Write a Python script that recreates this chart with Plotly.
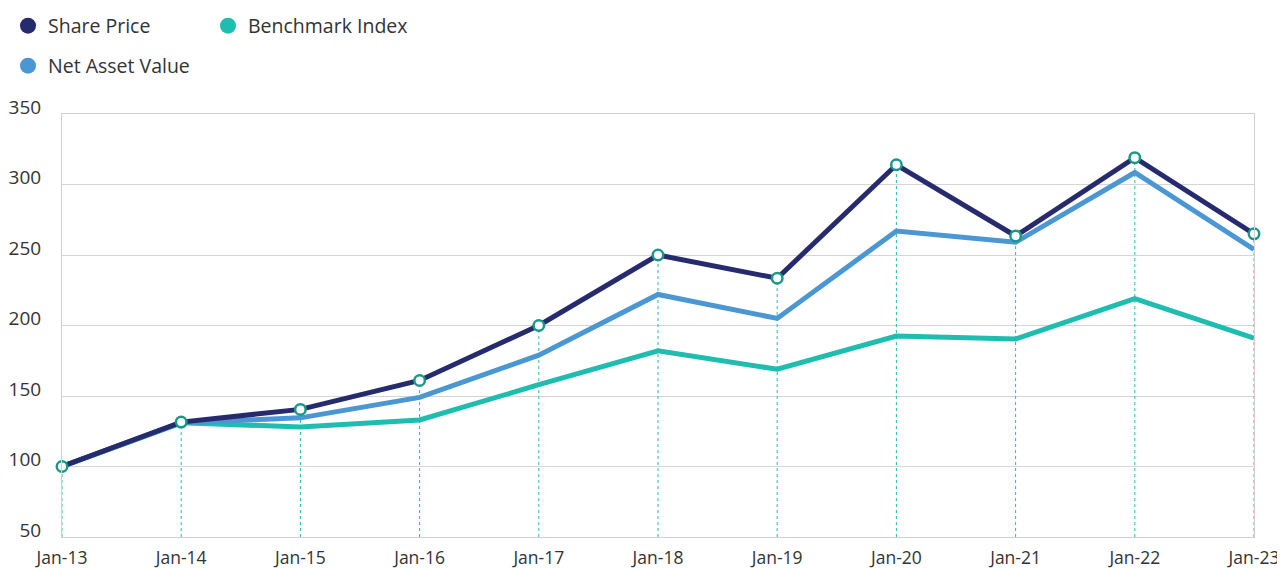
import plotly.graph_objects as go

categories = ["Jan-13", "Jan-14", "Jan-15", "Jan-16", "Jan-17", "Jan-18",
              "Jan-19", "Jan-20", "Jan-21", "Jan-22", "Jan-23"]
share_price = [100, 131.5, 140.5, 161, 200, 250, 233.5, 314, 263.5, 319, 265]
net_asset_value = [100, 131, 134.5, 149, 179, 222, 205, 267, 259, 308.5, 254]
benchmark_index = [100, 131, 128, 133, 158, 182, 169, 192.5, 190.5, 219, 191]
y_ticks = [50, 100, 150, 200, 250, 300, 350]

NAVY = "#262b6e"
BLUE = "#4a97d3"
TEAL = "#1ebdb0"
MARK = "#17998a"
FONT = "Open Sans"
# page body has an 8px default margin; size the figure to fill the rest
W, H = 1277, 560

fig = go.Figure()

# vertical dashed drop lines from share price points to axis bottom
dx, dy = [], []
for c, v in zip(categories, share_price):
    dx += [c, c, None]
    dy += [y_ticks[0], v, None]
fig.add_trace(go.Scatter(x=dx, y=dy, mode="lines", showlegend=False,
                         line=dict(color=TEAL, width=1, dash="3px,3px"),
                         hoverinfo="skip", cliponaxis=False))

fig.add_trace(go.Scatter(x=categories, y=benchmark_index, mode="lines",
                         name="Benchmark Index", showlegend=False,
                         line=dict(color=TEAL, width=5)))
fig.add_trace(go.Scatter(x=categories, y=net_asset_value, mode="lines",
                         name="Net Asset Value", showlegend=False,
                         line=dict(color=BLUE, width=5)))
fig.add_trace(go.Scatter(x=categories, y=share_price, mode="lines+markers",
                         name="Share Price", showlegend=False, cliponaxis=False,
                         line=dict(color=NAVY, width=5),
                         marker=dict(size=10.5, color="white",
                                     line=dict(color=MARK, width=2.5))))

# legend entries (circle markers only)
for name, color, leg, rank in [("Share Price", NAVY, "legend", 1),
                               ("Benchmark Index", TEAL, "legend", 2),
                               ("Net Asset Value", BLUE, "legend2", 1)]:
    fig.add_trace(go.Scatter(x=[None], y=[None], mode="markers", name=name,
                             legend=leg, legendrank=rank,
                             marker=dict(size=19, color=color)))

leg_font = dict(family=FONT, size=19.5, color="#333333")
fig.update_layout(
    width=W, height=H,
    margin=dict(l=54, r=31, t=106, b=31, autoexpand=False),
    paper_bgcolor="white", plot_bgcolor="white",
    font=dict(family=FONT, size=18, color="#333333"),
    legend=dict(orientation="h", x=-8 / W, xanchor="left", y=1 - 18 / H,
                yref="container", xref="container", yanchor="middle",
                font=leg_font, entrywidth=155, itemwidth=30,
                bgcolor="rgba(0,0,0,0)"),
    legend2=dict(orientation="h", x=-8 / W, xanchor="left", y=1 - 58 / H,
                 yref="container", xref="container", yanchor="middle",
                 font=leg_font, itemwidth=30, bgcolor="rgba(0,0,0,0)"),
    showlegend=True,
    hovermode=False,
)

fig.update_xaxes(type="category", categoryorder="array", categoryarray=categories,
                 range=[0, len(categories) - 1], showgrid=False, zeroline=False,
                 showline=True, linecolor="#d0d0d0", linewidth=1, mirror=True,
                 ticks="", ticklabelstandoff=5,
                 tickfont=dict(family=FONT, size=17.5, color="#333333"))
fig.update_yaxes(range=[50, 350], tickvals=y_ticks, showgrid=True,
                 gridcolor="#d5d5d5", gridwidth=1, zeroline=False,
                 showline=True, linecolor="#d0d0d0", linewidth=1, mirror=True,
                 ticks="", ticklabelstandoff=16, ticklabelshift=-7,
                 tickfont=dict(family=FONT, size=19, color="#333333"))

fig.write_html("out.html")
